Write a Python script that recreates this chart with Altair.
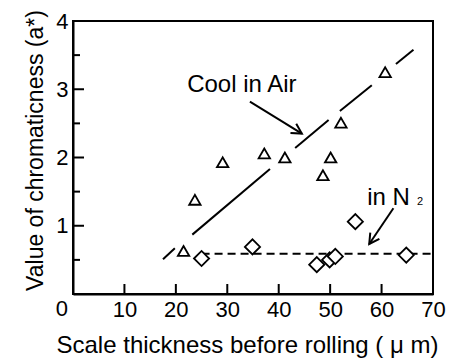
import math
import altair as alt
import pandas as pd

# a* of scale cooled in air (open triangles)
air_thickness = [21.5, 23.7, 29.1, 37.2, 41.2, 48.6, 50.1, 52.1, 60.7]
air_a_star = [0.63, 1.38, 1.93, 2.06, 2.00, 1.74, 2.00, 2.51, 3.25]

# a* of scale cooled in N2 (open diamonds)
n2_thickness = [25.0, 34.9, 47.4, 49.9, 51.0, 54.9, 64.8]
n2_a_star = [0.52, 0.69, 0.43, 0.50, 0.55, 1.06, 0.57]

# solid trend line for air cooling, drawn as broken pieces
air_fit_x1 = [17.5, 23.2, 43.2, 51.9, 62.8]
air_fit_x2 = [19.8, 38.3, 49.7, 58.1, 66.2]
air_fit_y1 = [0.51, 0.87, 2.14, 2.68, 3.37]
air_fit_y2 = [0.67, 1.83, 2.55, 3.06, 3.58]

# dashed level for N2 cooling
n2_level_x = [25.0, 69.6]
n2_level_y = [0.59, 0.59]

# annotation arrows: start -> tip
arrow_x1 = [34.4, 62.3]
arrow_y1 = [2.82, 1.256]
arrow_x2 = [44.5, 57.6]
arrow_y2 = [2.35, 0.733]

# axis ticks and labels
x_ticks = [10, 20, 30, 40, 50, 60]
x_labels = [10, 20, 30, 40, 50, 60, 70]
y_major = [1, 2, 3]
y_minor = [0.5, 1.5, 2.5, 3.5]
y_labels = [1, 2, 3, 4]

W, H = 360, 273
X_MAX, Y_MAX = 70, 4
FONT = "Liberation Sans"

xs = alt.Scale(domain=[0, X_MAX], nice=False, zero=False)
ys = alt.Scale(domain=[0, Y_MAX], nice=False, zero=False)

x_axis = alt.Axis(
    values=x_labels, ticks=False, grid=False, labelPadding=5, labelFontSize=22,
    labelFont=FONT, labelColor="black", labelFlush=False, labelOverlap=False,
    domainColor="black", domainWidth=2,
    title="Scale thickness before rolling ( μ m)", titleFont=FONT, titleFontSize=24,
    titleFontWeight="normal", titleColor="black", titleX=174, titleY=58,
    titleBaseline="alphabetic", titleAlign="center",
)
y_axis = alt.Axis(
    values=y_labels, ticks=False, grid=False, labelPadding=5, labelFontSize=22,
    labelFont=FONT, labelColor="black", labelOverlap=False,
    domainColor="black", domainWidth=2,
    title="Value of chromaticness (a*)", titleFont=FONT, titleFontSize=23,
    titleFontWeight="normal", titleColor="black", titleX=-31, titleY=129,
    titleBaseline="alphabetic", titleAlign="center", titleAngle=270,
)


def X(field):
    return alt.X(field, scale=xs, axis=x_axis)


def Y(field):
    return alt.Y(field, scale=ys, axis=y_axis)


air = pd.DataFrame({"t": air_thickness, "a": air_a_star})
n2 = pd.DataFrame({"t": n2_thickness, "a": n2_a_star})
fit = pd.DataFrame({"x": air_fit_x1, "x2": air_fit_x2, "y": air_fit_y1, "y2": air_fit_y2})
level = pd.DataFrame({"x": n2_level_x, "y": n2_level_y})

# arrow head direction in screen space (clockwise degrees)
angles = []
for a, b, c, d in zip(arrow_x1, arrow_y1, arrow_x2, arrow_y2):
    dx = (c - a) * W / X_MAX
    dy = -(d - b) * H / Y_MAX
    angles.append(math.degrees(math.atan2(dy, dx)) % 360)
arrows = pd.DataFrame({"x": arrow_x1, "y": arrow_y1, "x2": arrow_x2, "y2": arrow_y2, "ang": angles})

corner_zero = alt.Chart(pd.DataFrame({"x": [0], "y": [0], "s": ["0"]})).mark_text(
    align="right", baseline="top", dx=-5, dy=5, font=FONT, fontSize=22, color="black"
).encode(x=X("x:Q"), y=Y("y:Q"), text="s:N")

# inward tick marks
y_major_ticks = alt.Chart(pd.DataFrame({"v": y_major})).mark_rule(color="black", strokeWidth=2).encode(
    y=Y("v:Q"), x=alt.value(0), x2=alt.value(11)
)
y_minor_ticks = alt.Chart(pd.DataFrame({"v": y_minor})).mark_rule(color="black", strokeWidth=2).encode(
    y=Y("v:Q"), x=alt.value(0), x2=alt.value(7)
)
x_major_ticks = alt.Chart(pd.DataFrame({"v": x_ticks})).mark_rule(color="black", strokeWidth=2).encode(
    x=X("v:Q"), y=alt.value(H), y2=alt.value(H - 10)
)

fit_line = alt.Chart(fit).mark_rule(color="black", strokeWidth=2).encode(
    x=X("x:Q"), x2="x2:Q", y=Y("y:Q"), y2="y2:Q",
)
level_line = alt.Chart(level).mark_line(color="black", strokeWidth=2, strokeDash=[8, 5]).encode(
    x=X("x:Q"), y=Y("y:Q")
)

air_pts = alt.Chart(air).mark_point(
    shape="triangle-up", filled=True, fill="white", stroke="black", strokeWidth=1.8, size=130, opacity=1
).encode(x=X("t:Q"), y=Y("a:Q"))

n2_pts = alt.Chart(n2).mark_point(
    shape="diamond", filled=True, fill="white", stroke="black", strokeWidth=1.8, size=230, opacity=1
).encode(x=X("t:Q"), y=Y("a:Q"))

arrow_shaft = alt.Chart(arrows).mark_rule(color="black", strokeWidth=2).encode(
    x=X("x:Q"), x2="x2:Q", y=Y("y:Q"), y2="y2:Q",
)
arrow_head = alt.Chart(arrows).mark_point(
    shape="M -1 -0.55 L 0 0 L -1 0.55", filled=False, color="black", strokeWidth=2, size=400, opacity=1
).encode(
    x=X("x2:Q"), y=Y("y2:Q"),
    angle=alt.Angle("ang:Q", scale=None),
)

labels = pd.DataFrame({
    "x": [22.2, 57.2], "y": [2.964, 1.304], "s": ["Cool in Air", "in N"],
})
label_text = alt.Chart(labels).mark_text(
    align="left", baseline="alphabetic", font=FONT, fontSize=24, color="black"
).encode(x=X("x:Q"), y=Y("y:Q"), text="s:N")

sub_text = alt.Chart(pd.DataFrame({"x": [66.9], "y": [1.304], "s": ["2"]})).mark_text(
    align="left", baseline="alphabetic", font=FONT, fontSize=11, color="black"
).encode(x=X("x:Q"), y=Y("y:Q"), text="s:N")

chart = alt.layer(
    corner_zero, y_major_ticks, y_minor_ticks, x_major_ticks,
    fit_line, level_line, arrow_shaft, arrow_head, air_pts, n2_pts, label_text, sub_text,
).properties(
    width=W, height=H,
    autosize=alt.AutoSizeParams(type="none"),
    padding={"left": 73, "top": 21, "right": 17, "bottom": 64},
    background="white",
).configure_view(stroke="black", strokeWidth=2)

chart.save("out.html", embed_options={"renderer": "svg", "actions": False})
